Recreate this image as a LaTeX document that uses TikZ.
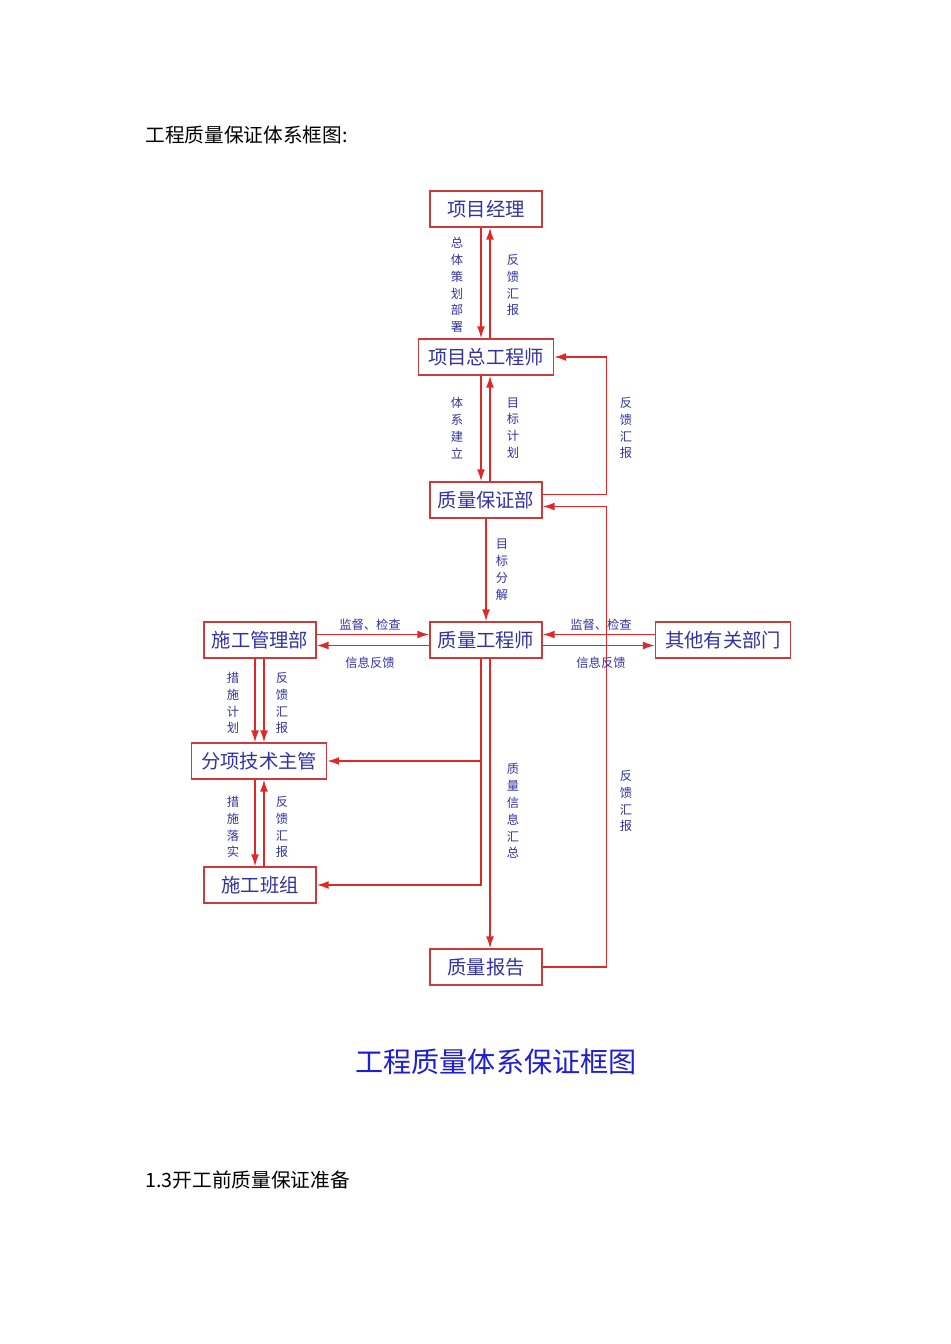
\documentclass[tikz,border=0pt]{standalone}
\usepackage{fontspec}
\setmainfont{Noto Sans CJK SC}
\usetikzlibrary{arrows.meta}
\definecolor{boxred}{RGB}{200,60,60}
\definecolor{linered}{RGB}{225,40,40}
\definecolor{txtblue}{RGB}{50,50,160}
\definecolor{ttlblue}{RGB}{30,30,210}

\begin{document}
\begin{tikzpicture}[x=0.02cm,y=-0.02cm,
  box/.style={draw=boxred,line width=0.8pt,text=txtblue,minimum width=2.24cm,minimum height=0.72cm,inner sep=1pt,font=\fontsize{11}{13}\selectfont},
  wbox/.style={box,minimum width=2.7cm},
  lbl/.style={text=txtblue,align=center,font=\fontsize{7}{9.6}\selectfont},
  arr/.style={draw=linered,line width=0.9pt,-{Latex[length=2.4mm,width=1.6mm]},color=linered}]
\useasboundingbox (0,0) rectangle (950,1344);

% boxes
\node[box] (jl) at (486,209) {项目经理};
\node[wbox] (zgc) at (486,357) {项目总工程师};
\node[box] (bzb) at (486,500) {质量保证部};
\node[box] (glb) at (260,640) {施工管理部};
\node[box] (zgcs) at (486,640) {质量工程师};
\node[wbox] (qt) at (723,640) {其他有关部门};
\node[wbox] (fxzg) at (259,761) {分项技术主管};
\node[box] (bz) at (260,885) {施工班组};
\node[box] (bg) at (486,967) {质量报告};

% top chain
\draw[arr] ([xshift=-0.1cm]jl.south) -- ([xshift=-0.1cm]zgc.north);
\draw[arr] ([xshift=0.08cm]zgc.north) -- ([xshift=0.08cm]jl.south);
\draw[arr] ([xshift=-0.1cm]zgc.south) -- ([xshift=-0.1cm]bzb.north);
\draw[arr] ([xshift=0.08cm]bzb.north) -- ([xshift=0.08cm]zgc.south);
\draw[arr] ([yshift=0.11cm]bzb.east) -- ++(64,0) |- (zgc.east);
\draw[arr] (bzb.south) -- (zgcs.north);

% sides
\draw[arr] ([yshift=0.11cm]glb.east) -- ([yshift=0.11cm]zgcs.west);
\draw[arr] ([yshift=-0.11cm]zgcs.west) -- ([yshift=-0.11cm]glb.east);
\draw[arr] ([yshift=0.11cm]qt.west) -- ([yshift=0.11cm]zgcs.east);
\draw[arr] ([yshift=-0.11cm]zgcs.east) -- ([yshift=-0.11cm]qt.west);
\draw[arr] (bg.east) -- ++(64,0) |- ([yshift=-0.13cm]bzb.east);

% left chain
\draw[arr] ([xshift=-0.1cm]glb.south) -- ([xshift=-0.08cm]fxzg.north);
\draw[arr] ([xshift=0.08cm]glb.south) -- ([xshift=0.1cm]fxzg.north);
\draw[arr] ([xshift=-0.08cm]fxzg.south) -- ([xshift=-0.1cm]bz.north);
\draw[arr] ([xshift=0.08cm]bz.north) -- ([xshift=0.1cm]fxzg.south);
\draw[arr] ([xshift=-0.1cm]zgcs.south) |- (fxzg.east);
\draw[arr] ([xshift=-0.1cm]zgcs.south) |- (bz.east);
\draw[arr] ([xshift=0.08cm]zgcs.south) -- ([xshift=0.08cm]bg.north);

% labels
\node[lbl] (l1) at (457,285) {总\\体\\策\\划\\部\\署};
\node[lbl] (l2) at (513,285) {反\\馈\\汇\\报};
\node[lbl] (l3) at (457,428) {体\\系\\建\\立};
\node[lbl] (l4) at (513,428) {目\\标\\计\\划};
\node[lbl] (l5) at (626,428) {反\\馈\\汇\\报};
\node[lbl] (l6) at (502,570) {目\\标\\分\\解};
\node[lbl] (l7) at (370,625) {监督、检查};
\node[lbl] (l8) at (370,663) {信息反馈};
\node[lbl] (l9) at (601,625) {监督、检查};
\node[lbl] (l10) at (601,663) {信息反馈};
\node[lbl] (l11) at (233,703) {措\\施\\计\\划};
\node[lbl] (l12) at (282,703) {反\\馈\\汇\\报};
\node[lbl] (l13) at (233,827) {措\\施\\落\\实};
\node[lbl] (l14) at (282,827) {反\\馈\\汇\\报};
\node[lbl] (l15) at (513,811) {质\\量\\信\\息\\汇\\总};
\node[lbl] (l16) at (626,801) {反\\馈\\汇\\报};

% page text
\node[anchor=west,inner sep=0pt,font=\fontsize{11.2}{13}\selectfont] (head) at (145,135) {工程质量保证体系框图:};
\node[text=ttlblue,inner sep=0pt,font=\fontsize{16}{18}\selectfont] (ttl) at (496,1062) {工程质量体系保证框图};
\node[anchor=west,inner sep=0pt,font=\fontsize{11.2}{13}\selectfont] (sec) at (145,1180) {1.3开工前质量保证准备};
\end{tikzpicture}
\end{document}
